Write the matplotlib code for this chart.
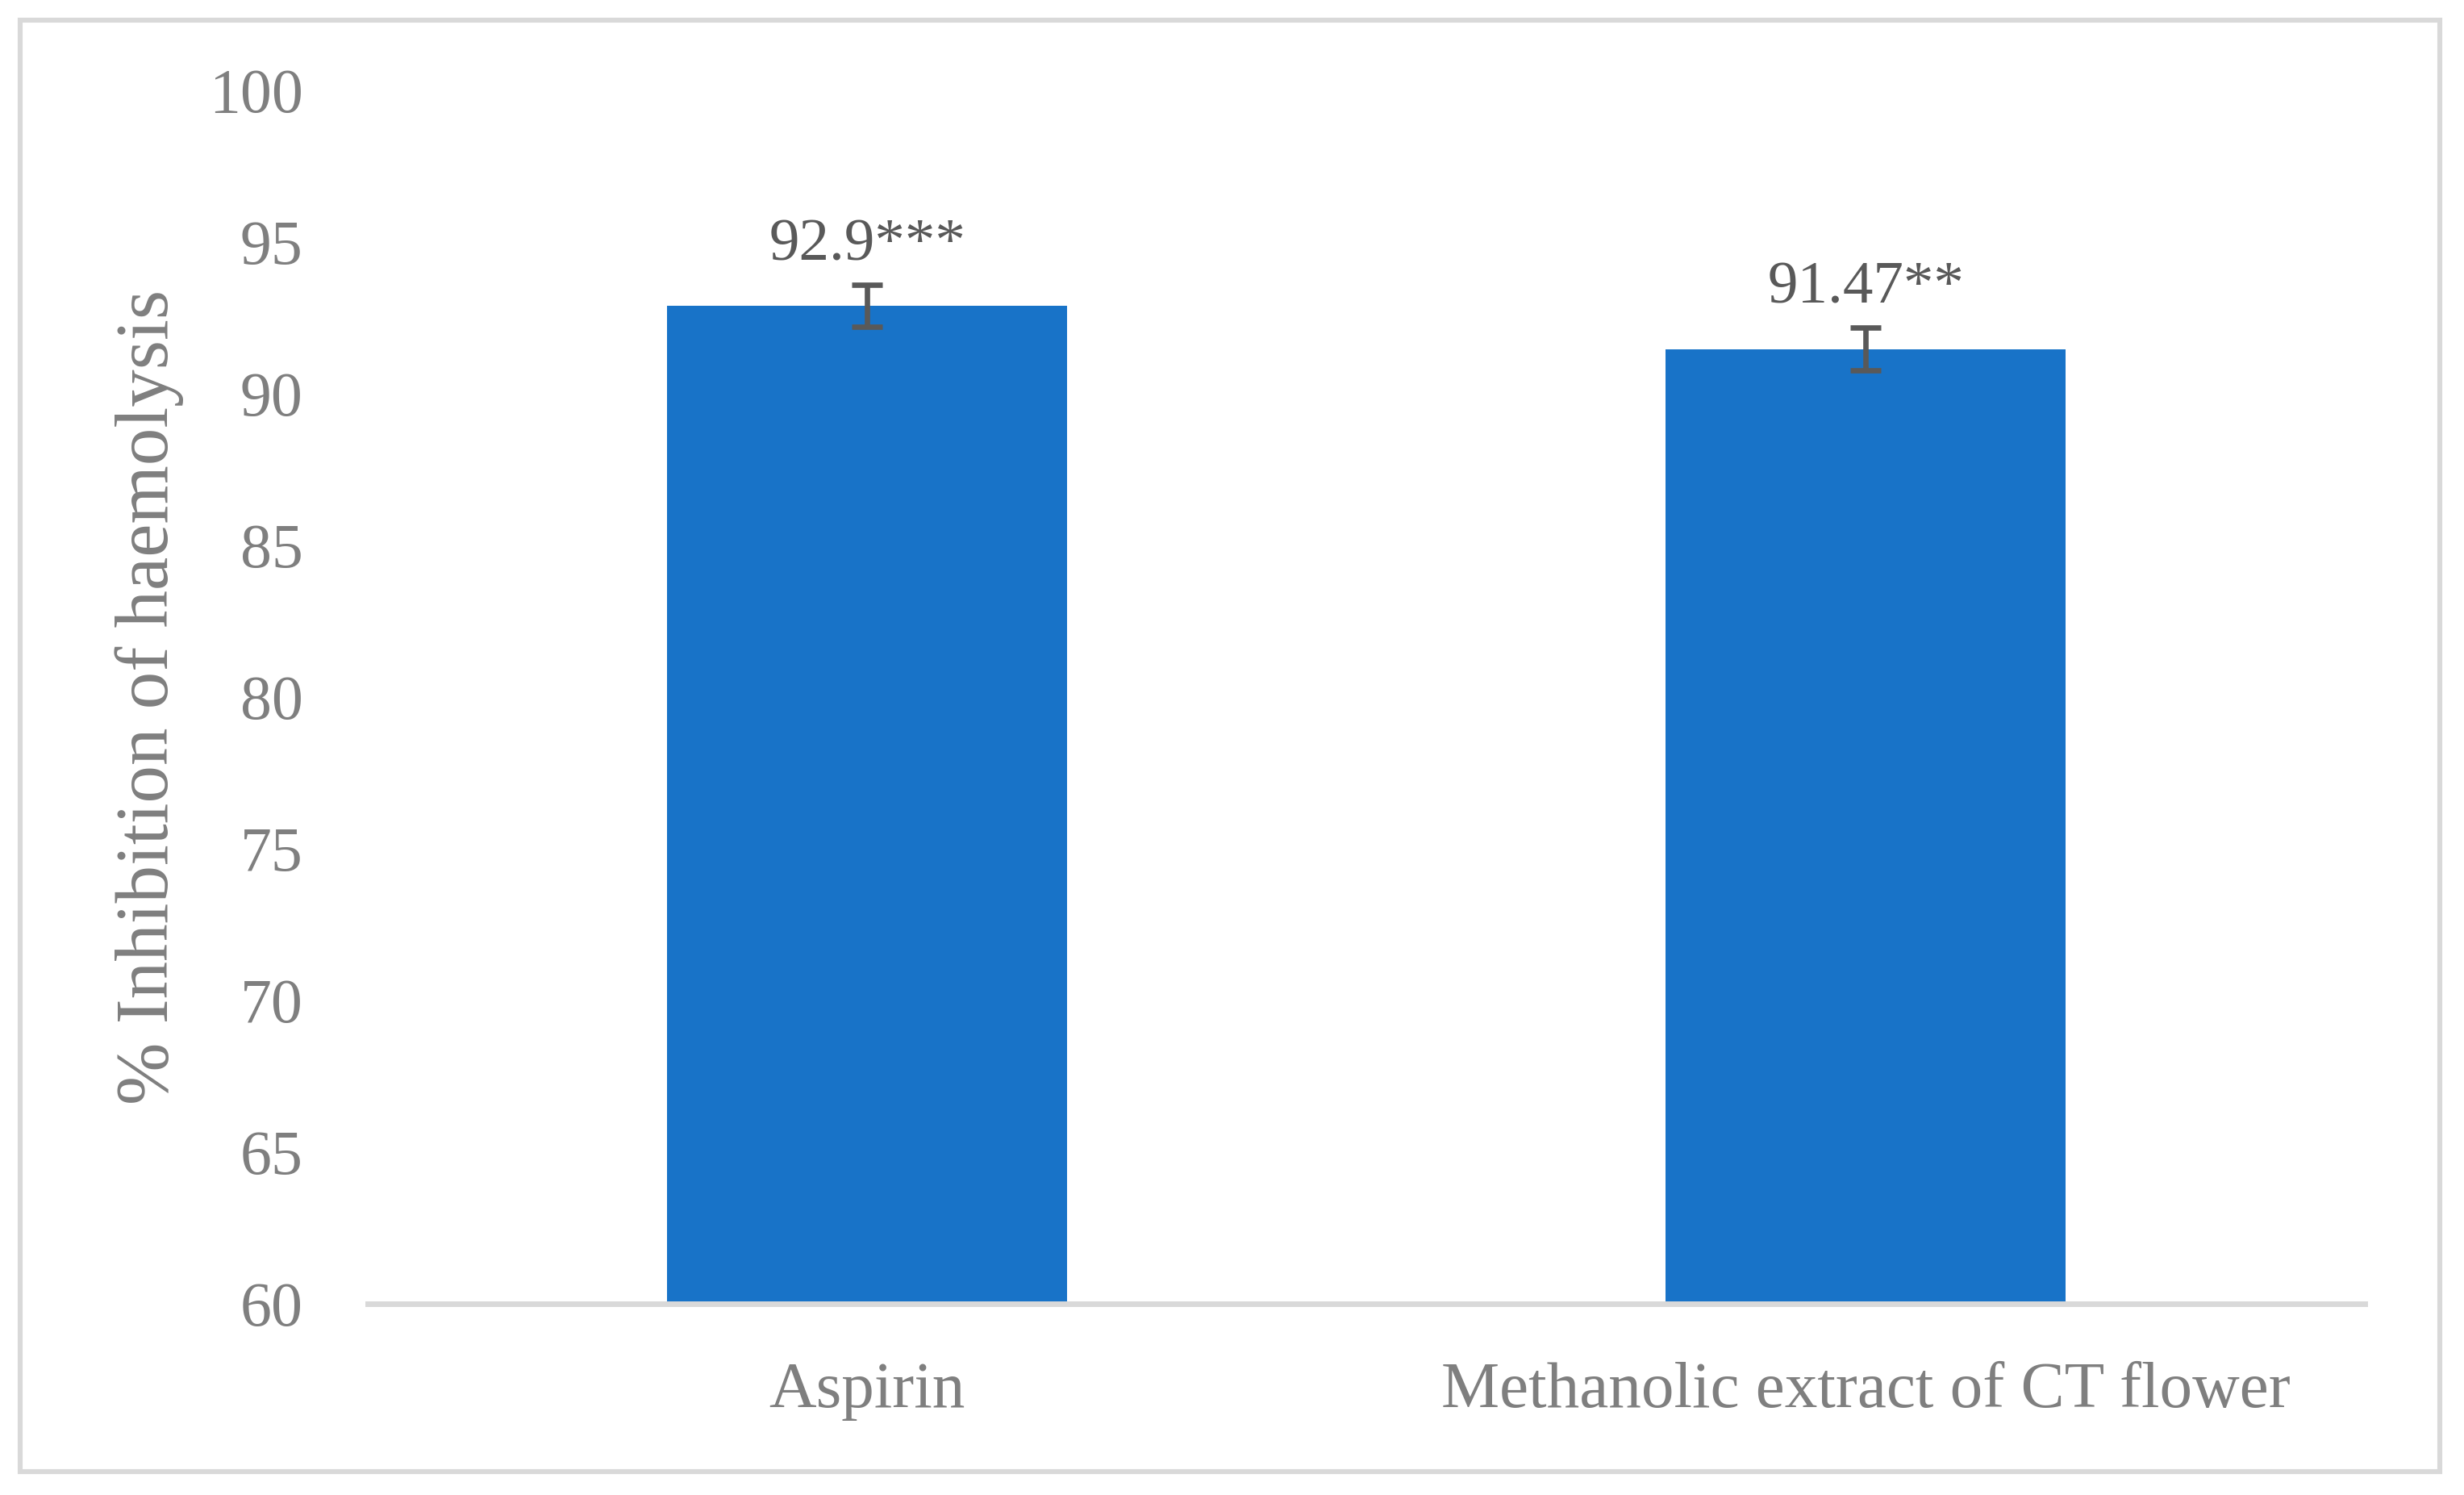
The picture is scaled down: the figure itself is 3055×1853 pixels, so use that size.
import matplotlib
matplotlib.use("Agg")
import matplotlib.pyplot as plt
from matplotlib.patches import Rectangle

# data
categories = ["Aspirin", "Methanolic extract of CT flower"]
values = [92.9, 91.47]
errors = [0.7, 0.7]
labels = ["92.9***", "91.47**"]
yticks = [60, 65, 70, 75, 80, 85, 90, 95, 100]

plt.rcParams["font.family"] = ["Liberation Serif", "DejaVu Serif"]

fig = plt.figure(figsize=(15.275, 9.265), dpi=200)
ax = fig.add_axes([0.1493, 0.1279, 0.8105, 0.8117])

x = list(range(len(categories)))
ax.bar(x, values, width=0.401, color="#1873C8", zorder=2)
ax.errorbar(x, values, yerr=errors, fmt="none", ecolor="#595959",
            elinewidth=2.4, capsize=7, capthick=2.4, zorder=3)

for xi, v, e, lab in zip(x, values, errors, labels):
    ax.annotate(lab, (xi, v + e), xytext=(0, 11), textcoords="offset points",
                ha="center", va="baseline", fontsize=27, color="#595959")

ax.set_xlim(-0.5, 1.5)
ax.set_ylim(60, 100)
ax.set_yticks(yticks)
ax.set_xticks(x)
ax.set_xticklabels(categories)
ax.tick_params(axis="both", length=0, labelsize=28, labelcolor="#7F7F7F")
ax.tick_params(axis="x", labelsize=29.2, pad=26)
ax.tick_params(axis="y", pad=29)
ax.set_ylabel("% Inhibition of haemolysis", fontsize=33.5, color="#7F7F7F", labelpad=11)

for s in ["top", "right", "left"]:
    ax.spines[s].set_visible(False)
ax.spines["bottom"].set_color("#D9D9D9")
ax.spines["bottom"].set_linewidth(2.5)

# outer chart border
fig.patches.append(Rectangle((25 / 3055, 1 - 1824 / 1853), 3000 / 3055, 1799 / 1853,
                             transform=fig.transFigure, fill=False,
                             edgecolor="#D9D9D9", linewidth=2.2))

fig.savefig("out.png", dpi=200, facecolor="white")
